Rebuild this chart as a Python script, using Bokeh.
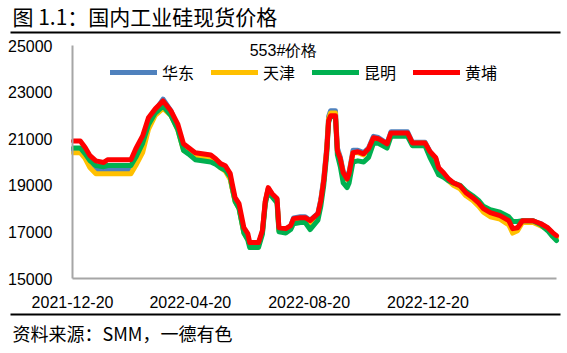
import pandas as pd
from bokeh.plotting import figure
from bokeh.models import (Range1d, FixedTicker, DatetimeTickFormatter, Label,
                          Legend, LegendItem)
from bokeh.embed import file_html
from bokeh.resources import INLINE

# ---------------- data ----------------
dates = [
    "2021-12-21", "2021-12-28", "2022-01-02", "2022-01-07", "2022-01-13", "2022-01-21",
    "2022-01-25", "2022-02-18", "2022-02-23", "2022-03-02", "2022-03-08", "2022-03-15",
    "2022-03-23", "2022-03-31", "2022-04-07", "2022-04-13", "2022-04-18", "2022-04-25",
    "2022-05-11", "2022-05-16", "2022-05-21", "2022-05-26", "2022-05-31", "2022-06-02",
    "2022-06-05", "2022-06-09", "2022-06-14", "2022-06-18", "2022-06-20", "2022-06-29",
    "2022-07-03", "2022-07-06", "2022-07-09", "2022-07-13", "2022-07-18", "2022-07-20",
    "2022-07-27", "2022-08-01", "2022-08-04", "2022-08-11", "2022-08-16", "2022-08-21",
    "2022-08-29", "2022-09-01", "2022-09-04", "2022-09-07", "2022-09-09", "2022-09-11",
    "2022-09-16", "2022-09-18", "2022-09-21", "2022-09-24", "2022-09-28", "2022-09-30",
    "2022-10-04", "2022-10-09", "2022-10-15", "2022-10-20", "2022-10-25", "2022-10-30",
    "2022-11-08", "2022-11-12", "2022-11-29", "2022-12-04", "2022-12-17", "2022-12-22",
    "2022-12-28", "2022-12-31", "2023-01-05", "2023-01-10", "2023-01-15", "2023-01-22",
    "2023-01-28", "2023-02-04", "2023-02-10", "2023-02-15", "2023-02-22", "2023-03-04",
    "2023-03-13", "2023-03-17", "2023-03-22", "2023-03-27", "2023-04-07", "2023-04-15",
    "2023-04-22", "2023-04-27", "2023-05-01",
]

huadong = [
    20500, 20500, 20250, 19900, 19650, 19650, 19650, 19650, 20000, 20600, 21600, 22200,
    22700, 22200, 21500, 20600, 20450, 20250, 20150, 20000, 19800, 19650, 19300, 18900,
    18350, 18050, 17000, 16750, 16450, 16450, 17000, 18300, 18850, 18600, 18400, 17100,
    17100, 17250, 17600, 17650, 17650, 17500, 17800, 18400, 19300, 20600, 21950, 22200,
    22200, 20600, 20200, 19600, 19350, 19550, 20500, 20500, 20400, 20600, 21100, 21050,
    20800, 21300, 21300, 20850, 20850, 20450, 20150, 19700, 19500, 19250, 19100, 18950,
    18650, 18450, 18250, 17950, 17800, 17700, 17450, 17100, 17150, 17450, 17450, 17350,
    17150, 16950, 16800,
]

tianjin = [
    20400, 20400, 20150, 19750, 19500, 19500, 19500, 19500, 19850, 20400, 21400, 22000,
    22300, 22000, 21400, 20500, 20400, 20200, 20150, 20000, 19750, 19600, 19250, 18850,
    18300, 18000, 16950, 16700, 16450, 16450, 17000, 18300, 18850, 18600, 18350, 17050,
    17050, 17200, 17500, 17550, 17550, 17400, 17700, 18300, 19200, 20500, 21850, 22100,
    22100, 20500, 20100, 19500, 19250, 19450, 20400, 20400, 20300, 20550, 21000, 20950,
    20750, 21200, 21200, 20800, 20800, 20400, 20100, 19650, 19450, 19200, 19000, 18850,
    18550, 18350, 18100, 17850, 17650, 17550, 17300, 16950, 17050, 17400, 17400, 17250,
    17100, 16900, 16750,
]

kunming = [
    20600, 20600, 20350, 20050, 19850, 19800, 19850, 19850, 20200, 20800, 21600, 22100,
    22400, 22000, 21400, 20500, 20350, 20100, 20000, 19900, 19750, 19650, 19350, 18900,
    18300, 18000, 16950, 16650, 16330, 16330, 16900, 18200, 18750, 18500, 18250, 17000,
    16950, 17100, 17350, 17400, 17400, 17100, 17500, 18100, 19000, 20300, 21700, 21950,
    21950, 20300, 19800, 19100, 18900, 19100, 20000, 20050, 20000, 20200, 20800, 20800,
    20600, 21100, 21100, 20700, 20700, 20200, 19700, 19450, 19350, 19200, 19100, 19000,
    18750, 18550, 18350, 18100, 17950, 17850, 17650, 17450, 17450, 17480, 17480, 17300,
    17050, 16800, 16630,
]

huangpu = [
    20900, 20900, 20620, 20270, 20050, 19980, 20100, 20100, 20570, 21120, 21900, 22280,
    22620, 22200, 21640, 20780, 20620, 20400, 20300, 20140, 19930, 19840, 19500, 19070,
    18470, 18210, 17180, 16930, 16540, 16540, 17060, 18340, 18900, 18640, 18430, 17180,
    17140, 17270, 17570, 17610, 17610, 17480, 17780, 18340, 19200, 20480, 21770, 21980,
    21980, 20480, 20140, 19540, 19280, 19500, 20400, 20440, 20350, 20570, 21040, 21000,
    20780, 21250, 21250, 20820, 20820, 20450, 20180, 19750, 19540, 19280, 19110, 18980,
    18680, 18470, 18250, 18000, 17830, 17700, 17480, 17140, 17180, 17480, 17480, 17350,
    17180, 16970, 16840,
]

series_names = ["华东", "天津", "昆明", "黄埔"]
series_colors = ["#4F81BD", "#FFC000", "#00B050", "#FF0000"]
y_ticks = [15000, 17000, 19000, 21000, 23000, 25000]
x_tick_labels = ["2021-12-20", "2022-04-20", "2022-08-20", "2022-12-20"]
x_axis_end = "2023-05-01"

title_text = "图 1.1：国内工业硅现货价格"
chart_title = "553#价格"
source_text = "资料来源：SMM，一德有色"

# ---------------- layout (canvas pixels) ----------------
W, H = 567, 353
AX_L, AX_R, AX_T, AX_B = 72, 556, 45, 278   # plot area inside the canvas


def ms(s):
    return pd.Timestamp(s).value / 1e6


d0, d1 = ms(x_tick_labels[0]), ms(x_axis_end)
x_per_px = (d1 - d0) / (AX_R - AX_L)
v0, v1 = y_ticks[0], y_ticks[-1]
y_per_px = (v1 - v0) / (AX_B - AX_T)


def cx(px):      # canvas x -> data x
    return d0 + (px - AX_L) * x_per_px


def cy(py):      # canvas y -> data y
    return v0 + (AX_B - py) * y_per_px


# the frame covers the whole canvas; axes are pinned with fixed_location
p = figure(width=W, height=H, x_axis_type="datetime", output_backend="svg",
           toolbar_location=None,
           x_range=Range1d(cx(0), cx(W)), y_range=Range1d(cy(H), cy(0)),
           min_border=0, min_border_left=0, min_border_right=0,
           min_border_top=0, min_border_bottom=0)
p.outline_line_color = None
p.background_fill_color = "white"
p.border_fill_color = "white"
p.xgrid.visible = False
p.ygrid.visible = False

yax = p.yaxis[0]
yax.fixed_location = d0
yax.bounds = (v0, v1)
yax.ticker = FixedTicker(ticks=y_ticks)
yax.axis_line_color = "#A6A6A6"
yax.axis_line_width = 2
yax.major_tick_line_color = None
yax.minor_tick_line_color = None
yax.major_label_text_font = "Liberation Sans"
yax.major_label_text_font_size = "16px"
yax.major_label_text_color = "#000000"
yax.major_label_standoff = 14

xax = p.xaxis[0]
xax.fixed_location = v0
xax.bounds = (d0, d1)
xax.ticker = FixedTicker(ticks=[ms(s) for s in x_tick_labels])
fmt = "%Y-%m-%d"
xax.formatter = DatetimeTickFormatter(days=fmt, months=fmt, years=fmt, hours=fmt,
                                      hourmin=fmt, minutes=fmt, minsec=fmt,
                                      seconds=fmt, milliseconds=fmt, microseconds=fmt)
xax.axis_line_color = "#A6A6A6"
xax.axis_line_width = 2
xax.major_tick_line_color = None
xax.minor_tick_line_color = None
xax.major_label_text_font = "Liberation Sans"
xax.major_label_text_font_size = "16px"
xax.major_label_text_color = "#000000"
xax.major_label_standoff = 11

# series
x = pd.to_datetime(dates)
items = []
for name, vals, col in zip(series_names, [huadong, tianjin, kunming, huangpu],
                           series_colors):
    r = p.line(x=x, y=vals, line_color=col, line_width=5,
               line_join="round", line_cap="round")
    items.append(LegendItem(label=name, renderers=[r]))

legend = Legend(items=items, orientation="horizontal", location=(110, H - 84),
                glyph_width=47, glyph_height=20, label_standoff=5, spacing=17,
                padding=0, margin=0, border_line_color=None,
                background_fill_alpha=0, label_text_font="Noto Sans CJK SC",
                label_text_font_size="16px", label_height=20,
                label_text_color="#000000")
p.add_layout(legend)

# black rules under the title and above the source note
p.segment(x0=[cx(10), cx(10)], x1=[cx(560), cx(560)],
          y0=[cy(32), cy(314)], y1=[cy(32), cy(314)],
          line_color="#000000", line_width=2)

# texts
p.add_layout(Label(x=12, y=H - 15, x_units="screen", y_units="screen",
                   text=title_text, text_font="Noto Sans CJK SC",
                   text_font_size="21px", text_baseline="middle",
                   text_align="left", text_color="#000000"))
p.add_layout(Label(x=283, y=H - 50, x_units="screen", y_units="screen",
                   text=chart_title, text_font="Liberation Sans",
                   text_font_size="16px", text_baseline="middle",
                   text_align="center", text_color="#000000"))
p.add_layout(Label(x=12, y=H - 332, x_units="screen", y_units="screen",
                   text=source_text, text_font="Noto Sans CJK SC",
                   text_font_size="18px", text_baseline="middle",
                   text_align="left", text_color="#000000"))

open("out.html", "w").write(file_html(p, INLINE))
